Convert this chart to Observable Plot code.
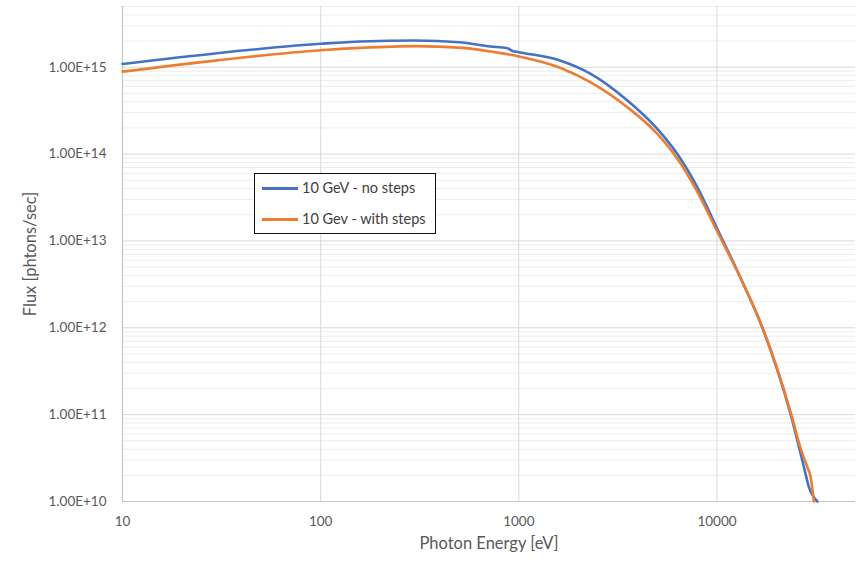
<!DOCTYPE html>
<html>
<head>
<meta charset="utf-8">
<script src="https://cdn.jsdelivr.net/npm/d3@7"></script>
<script src="https://cdn.jsdelivr.net/npm/@observablehq/plot@0.6"></script>
<style>
  body { margin: 0; background: #fff; font-family: Lato, "Open Sans", sans-serif; }
  #wrap { position: relative; width: 863px; height: 565px; }
  #legend { position: absolute; left: 254px; top: 173px; width: 182px; height: 61px;
    border: 1.5px solid #111; background: #fff; box-sizing: border-box; font-size: 14.5px; color: #404040; }
  .item { position: absolute; left: 7px; height: 18px; line-height: 18px; display: flex; align-items: center; white-space: nowrap; }
  .sw { width: 36px; height: 3px; margin-right: 4px; }
</style>
</head>
<body>
<div id="wrap"></div>
<script>
const seriesNames = ["10 GeV - no steps", "10 Gev - with steps"];
const seriesColors = ["#4472C4", "#ED7D31"];

const blueEnergy = [10, 30, 100, 159, 302, 500, 720, 869, 931, 1000, 1626, 2306, 3532, 5000, 6310, 8000, 10000, 13500, 16940, 23550, 27480, 29110, 32100];
const blueFlux   = [1.09e15, 1.45e15, 1.86e15, 1.98e15, 2.03e15, 1.94e15, 1.73e15, 1.66e15, 1.54e15, 1.49e15, 1.19e15, 8.4e14, 4.14e14, 1.95e14, 1.0e14, 4.05e13, 1.4e13, 3.3e12, 1.0e12, 1.0e11, 2.48e10, 1.46e10, 1.0e10];

const orangeEnergy = [10, 30, 100, 159, 302, 500, 720, 1000, 1626, 2306, 3532, 5000, 6070, 8000, 10000, 13500, 16940, 23550, 26500, 28580, 29700, 30840];
const orangeFlux   = [8.9e14, 1.2e15, 1.57e15, 1.67e15, 1.75e15, 1.68e15, 1.52e15, 1.33e15, 0.98e15, 6.7e14, 3.46e14, 1.71e14, 1.0e14, 3.6e13, 1.3e13, 3.3e12, 1.02e12, 1.06e11, 4.0e10, 2.48e10, 1.9e10, 1.0e10];

const xTicks = [10, 100, 1000, 10000];
const yTicks = [1e10, 1e11, 1e12, 1e13, 1e14, 1e15];
const yMinor = [];
for (const p of yTicks) for (let k = 2; k <= 9; k++) { if (k * p <= 5e15) yMinor.push(k * p); }

const data = [
  ...blueEnergy.map((e, i) => ({series: seriesNames[0], energy: e, flux: blueFlux[i]})),
  ...orangeEnergy.map((e, i) => ({series: seriesNames[1], energy: e, flux: orangeFlux[i]}))
];

const chart = Plot.plot({
  width: 863, height: 565,
  marginLeft: 122, marginRight: 8, marginTop: 6, marginBottom: 64,
  style: {fontFamily: "Lato, 'Open Sans', sans-serif", fontSize: "13.5px", color: "#595959", background: "#fff"},
  x: {type: "log", domain: [10, 50000]},
  y: {type: "log", domain: [1e10, 5e15]},
  color: {domain: seriesNames, range: seriesColors},
  marks: [
    Plot.ruleY(yMinor, {stroke: "#ececec", strokeWidth: 1}),
    Plot.ruleY(yTicks.slice(1), {stroke: "#d9d9d9", strokeWidth: 1}),
    Plot.ruleX(xTicks.slice(1), {stroke: "#d9d9d9", strokeWidth: 1}),
    Plot.ruleX([10], {stroke: "#c4c4c4", strokeWidth: 1.2}),
    Plot.ruleY([1e10], {stroke: "#c4c4c4", strokeWidth: 1.2}),
    Plot.axisY(yTicks, {tickSize: 0, tickPadding: 16, label: null, tickFormat: d => d.toExponential(2).toUpperCase(), fill: "#595959", fontSize: 13.5}),
    Plot.axisX(xTicks, {tickSize: 0, tickPadding: 15, label: null, tickFormat: d => String(d), fill: "#595959", fontSize: 13.5}),
    Plot.text(["Photon Energy [eV]"], {frameAnchor: "bottom", dy: 47, fill: "#595959", fontSize: 16.5}),
    Plot.text(["Flux [phtons/sec]"], {frameAnchor: "left", dx: -92, rotate: -90, textAnchor: "middle", fill: "#595959", fontSize: 16.5}),
    Plot.line(data, {x: "energy", y: "flux", z: "series", stroke: "series", strokeWidth: 2.6, curve: "monotone-x"})
  ]
});

const wrap = document.getElementById("wrap");
wrap.appendChild(chart);

const legend = document.createElement("div");
legend.id = "legend";
seriesNames.forEach((name, i) => {
  const item = document.createElement("div");
  item.className = "item";
  item.style.top = (i === 0 ? 5 : 36) + "px";
  const sw = document.createElement("div");
  sw.className = "sw";
  sw.style.background = seriesColors[i];
  const label = document.createElement("span");
  label.textContent = name;
  item.appendChild(sw);
  item.appendChild(label);
  legend.appendChild(item);
});
wrap.appendChild(legend);
</script>
</body>
</html>
